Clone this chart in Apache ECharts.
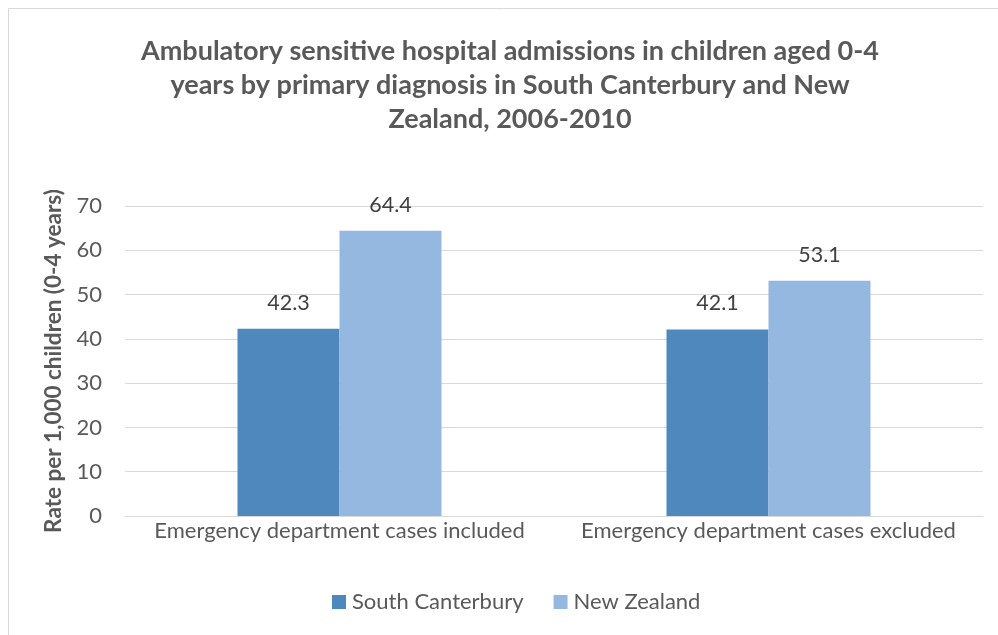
<!DOCTYPE html>
<html>
<head>
<meta charset="utf-8">
<script src="https://cdn.jsdelivr.net/npm/echarts@6/dist/echarts.min.js"></script>
<style>
  html, body { margin: 0; padding: 0; background: #ffffff; }
  #chart { width: 998px; height: 635px; }
</style>
</head>
<body>
<div id="chart"></div>
<script>
// Admission rates per 1,000 children aged 0-4, 2006-2010
const categories = [
  'Emergency department cases included',
  'Emergency department cases excluded'
];
const southCanterbury = [42.3, 42.1];
const newZealand = [64.4, 53.1];
const seriesNames = ['South Canterbury', 'New Zealand'];
const yTicks = { min: 0, max: 70, interval: 10 };

const FONT = 'Lato, "Open Sans", sans-serif';
const chart = echarts.init(document.getElementById('chart'), null, { renderer: 'canvas' });

chart.setOption({
  backgroundColor: '#ffffff',
  animation: false,
  title: {
    text: 'Ambulatory sensitive hospital admissions in children aged 0-4\nyears by primary diagnosis in South Canterbury and New\nZealand, 2006-2010',
    left: 505,
    top: 29,
    textAlign: 'center',
    textStyle: {
      fontFamily: FONT,
      fontWeight: 'bold',
      fontSize: 27,
      lineHeight: 34,
      color: '#595959'
    }
  },
  graphic: [{
    type: 'rect',
    shape: { x: 8.5, y: 8.5, width: 1100, height: 700 },
    style: { fill: 'none', stroke: '#D9D9D9', lineWidth: 1 },
    silent: true
  }],
  legend: {
    data: seriesNames,
    left: 327,
    top: 586,
    itemWidth: 14,
    itemHeight: 14,
    itemGap: 30,
    icon: 'rect',
    textStyle: { fontFamily: FONT, fontSize: 22, color: '#595959', padding: [0, 0, 0, 1] }
  },
  grid: { left: 125, right: 15, top: 206, bottom: 119, containLabel: false },
  xAxis: {
    type: 'category',
    data: categories,
    axisLine: { lineStyle: { color: '#D9D9D9', width: 1 } },
    axisTick: { show: false },
    axisLabel: { fontFamily: FONT, fontSize: 22, color: '#595959', margin: 4, interval: 0 }
  },
  yAxis: {
    type: 'value',
    min: yTicks.min,
    max: yTicks.max,
    interval: yTicks.interval,
    name: 'Rate per 1,000 children (0-4 years)',
    nameLocation: 'middle',
    nameGap: 57,
    nameTextStyle: { fontFamily: FONT, fontWeight: 'bold', fontSize: 22.5, color: '#595959' },
    axisLine: { show: false },
    axisTick: { show: false },
    splitLine: { lineStyle: { color: '#D9D9D9', width: 1 } },
    axisLabel: { fontFamily: FONT, fontSize: 22, color: '#595959', margin: 23 }
  },
  series: [
    {
      name: seriesNames[0],
      type: 'bar',
      data: southCanterbury,
      barWidth: 102,
      barGap: '0%',
      itemStyle: { color: '#4F88BD' },
      label: { show: true, position: 'top', distance: 15, fontFamily: FONT, fontSize: 21.5, color: '#404040' }
    },
    {
      name: seriesNames[1],
      type: 'bar',
      data: newZealand,
      barWidth: 102,
      barGap: '0%',
      itemStyle: { color: '#95B8E0' },
      label: { show: true, position: 'top', distance: 15, fontFamily: FONT, fontSize: 21.5, color: '#404040' }
    }
  ]
});
</script>
</body>
</html>
